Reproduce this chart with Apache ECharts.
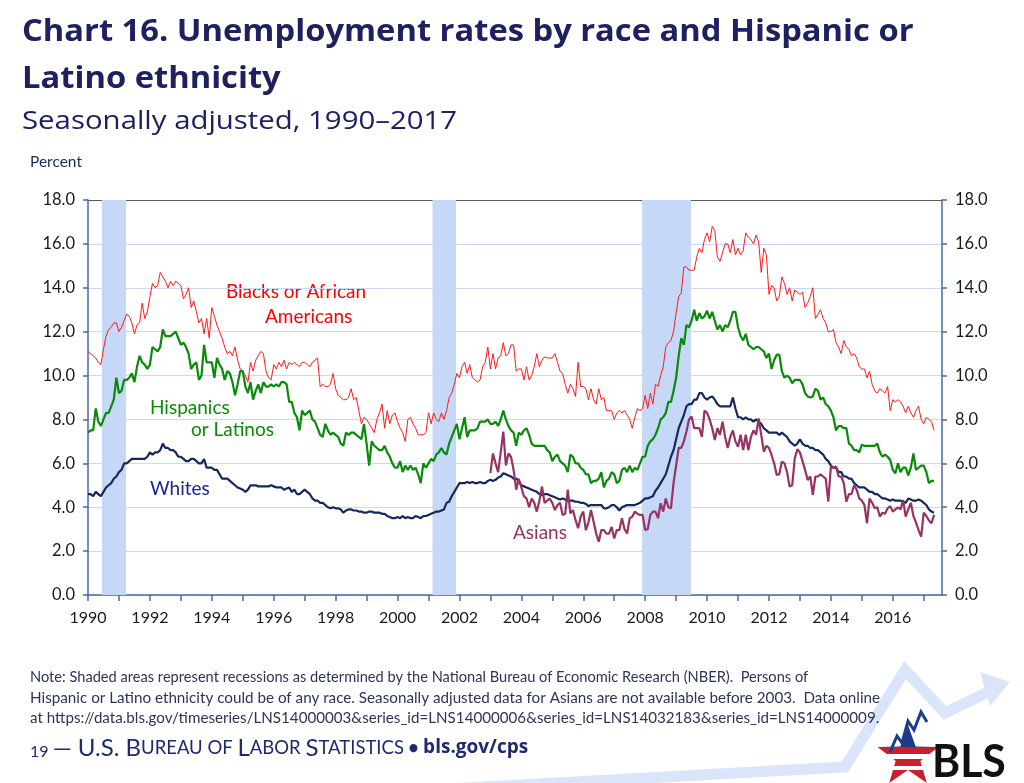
<!DOCTYPE html>
<html><head><meta charset="utf-8">
<script src="https://cdn.jsdelivr.net/npm/echarts@6/dist/echarts.min.js"></script>
<style>html,body{margin:0;padding:0;background:#fff}#c{width:1024px;height:783px}</style>
</head><body><div id="c"></div>
<script>
// ---- DATA (monthly, seasonally adjusted, percent) ----
const startYear = 1990;      // Jan 1990
const asianStartYear = 2003; // Jan 2003
const whites = [
4.6,4.6,4.5,4.7,4.6,4.5,4.7,4.9,5.0,5.1,5.3,5.4,
5.6,5.7,6.0,6.0,6.1,6.2,6.2,6.2,6.2,6.2,6.2,6.3,
6.5,6.4,6.5,6.5,6.6,6.9,6.7,6.7,6.6,6.6,6.5,6.3,
6.3,6.2,6.1,6.1,6.2,6.2,6.1,6.0,6.0,6.2,5.8,5.8,
5.8,5.7,5.7,5.5,5.3,5.3,5.3,5.2,5.1,5.0,4.9,4.85,
4.8,4.7,4.8,5.0,5.0,5.0,4.95,4.95,4.95,4.95,4.95,5.0,
4.95,4.9,4.9,4.9,4.8,4.85,4.9,4.7,4.8,4.6,4.6,4.7,
4.8,4.7,4.6,4.4,4.3,4.3,4.2,4.2,4.1,4.0,3.95,4.0,
3.95,3.95,3.9,3.75,3.85,3.9,3.9,3.85,3.85,3.8,3.8,3.75,
3.75,3.8,3.8,3.75,3.75,3.75,3.7,3.7,3.6,3.55,3.5,3.5,
3.55,3.5,3.6,3.5,3.55,3.5,3.5,3.6,3.55,3.5,3.6,3.6,
3.65,3.7,3.75,3.8,3.8,3.85,3.9,4.2,4.25,4.5,4.7,4.9,
5.1,5.1,5.1,5.15,5.1,5.15,5.1,5.1,5.15,5.1,5.1,5.2,
5.25,5.2,5.25,5.35,5.4,5.55,5.5,5.45,5.4,5.3,5.3,5.2,
5.0,4.95,4.9,4.85,4.8,4.75,4.7,4.6,4.55,4.6,4.6,4.55,
4.5,4.45,4.4,4.35,4.4,4.35,4.3,4.3,4.3,4.25,4.25,4.2,
4.2,4.15,4.05,4.1,4.1,4.1,4.1,4.1,3.95,3.95,4.0,4.1,
4.1,4.0,3.85,4.0,4.05,4.1,4.1,4.1,4.1,4.15,4.2,4.3,
4.4,4.4,4.45,4.5,4.75,4.9,5.1,5.3,5.5,5.9,6.3,6.6,
7.1,7.6,7.9,8.2,8.6,8.7,8.7,8.9,8.9,9.2,9.2,9.0,
8.9,9.0,9.05,8.9,8.7,8.6,8.6,8.6,8.6,8.6,9.0,8.5,
8.1,8.1,8.0,8.1,8.0,8.0,7.9,8.0,7.9,7.8,7.6,7.5,
7.4,7.4,7.4,7.4,7.3,7.4,7.3,7.2,7.0,6.9,6.8,6.9,
7.1,6.9,6.8,6.8,6.7,6.7,6.6,6.6,6.5,6.4,6.2,6.1,
5.9,5.8,5.8,5.6,5.6,5.4,5.4,5.3,5.3,5.1,5.0,4.9,
4.9,4.9,4.8,4.7,4.7,4.6,4.6,4.5,4.4,4.4,4.35,4.3,
4.35,4.3,4.3,4.3,4.25,4.2,4.4,4.35,4.3,4.3,4.35,4.3,
4.2,4.1,3.9,3.8,3.75];
const blacks = [
11.1,11.0,10.9,10.8,10.6,10.5,11.2,11.8,12.1,12.2,12.4,12.4,
12.0,12.2,12.5,12.8,12.7,12.4,11.9,12.3,12.4,13.3,12.6,12.9,
13.6,14.2,14.0,14.1,14.7,14.5,14.3,14.0,14.3,14.1,14.3,14.2,
14.1,13.5,13.7,14.0,13.1,13.4,12.9,12.4,12.6,11.9,12.6,11.7,
13.1,12.7,12.3,12.0,11.7,11.3,11.0,11.1,10.9,11.3,10.7,10.3,
10.2,10.0,9.7,10.6,10.2,10.7,10.9,11.1,11.0,10.2,9.9,9.8,
10.5,10.3,10.6,10.4,10.7,10.3,10.6,10.5,10.6,10.5,10.4,10.6,
10.6,10.5,10.4,10.6,10.7,10.8,9.5,9.6,9.5,9.5,9.6,10.1,
9.4,9.1,9.0,8.9,8.9,9.0,9.4,8.9,9.0,8.4,7.8,8.1,
8.0,7.8,7.6,7.4,8.0,8.3,8.7,7.6,8.4,7.8,8.2,8.3,
7.9,7.6,7.4,7.0,8.0,8.1,7.8,7.6,7.3,7.3,7.3,7.4,
8.3,7.8,8.3,8.0,7.9,8.3,8.0,8.4,9.0,9.2,9.6,10.1,
9.9,10.4,10.6,10.1,10.5,9.9,9.8,9.7,9.8,10.4,10.6,11.3,
10.3,11.0,10.3,10.8,10.9,11.5,10.9,11.0,11.4,11.4,10.2,10.3,
10.3,9.8,10.4,9.8,10.0,10.4,11.0,10.4,10.7,10.85,10.8,10.8,
10.8,11.0,10.6,10.2,10.1,9.6,9.2,9.6,9.4,9.05,10.6,9.5,
9.5,9.4,8.9,9.4,8.9,8.7,9.4,8.9,9.0,8.4,8.4,8.4,
8.0,8.3,8.4,8.3,8.4,8.2,8.0,7.6,8.1,8.5,8.4,8.5,
9.1,8.5,9.2,8.7,9.6,9.5,10.0,10.4,11.3,11.5,11.6,12.0,
12.85,13.6,13.75,14.95,14.95,14.8,14.8,14.8,15.4,15.8,15.6,16.2,
16.5,16.1,16.8,16.6,15.4,15.2,15.6,16.0,16.0,15.6,16.2,15.5,
15.8,15.5,15.7,16.5,16.3,16.2,16.0,16.4,16.1,14.7,15.8,15.5,
13.7,14.1,14.0,13.4,13.6,14.5,14.2,13.7,14.0,13.4,13.9,13.8,
13.7,13.8,13.1,13.3,13.6,14.0,12.6,12.8,13.0,12.6,12.4,12.0,
12.0,12.1,11.5,11.3,11.0,11.6,11.3,11.2,10.9,11.0,10.8,10.4,
10.3,10.3,9.9,10.2,9.6,9.3,9.2,9.4,9.3,9.2,9.5,8.4,
8.9,8.8,8.9,8.8,8.6,8.3,8.6,8.3,8.1,8.4,8.6,8.0,
7.8,8.1,8.0,7.9,7.5];
const hispanics = [
7.4,7.5,7.5,8.5,7.9,7.7,8.0,8.3,8.3,8.6,8.9,9.9,
9.2,9.3,9.8,9.8,9.9,10.1,9.7,10.4,10.9,10.6,10.5,10.3,
10.5,11.3,11.2,11.1,11.3,12.1,11.8,11.8,11.8,11.9,12.0,11.7,
11.4,11.5,11.3,11.0,10.3,10.5,10.6,9.8,10.0,11.4,10.6,10.6,
10.6,9.9,10.8,10.5,10.3,9.8,10.2,10.1,9.7,9.1,9.6,10.2,
10.2,9.5,9.2,9.7,8.9,9.3,9.6,9.2,9.7,9.5,9.5,9.6,
9.5,9.6,9.5,9.7,9.7,9.6,8.8,8.8,8.3,8.1,7.5,8.4,
8.2,8.3,8.4,8.0,7.9,7.6,7.3,7.2,7.8,7.5,7.3,7.4,
7.3,7.2,6.9,6.8,7.4,7.3,7.4,7.4,7.3,7.2,7.1,7.8,
6.9,5.9,7.0,6.8,6.7,6.6,6.6,6.8,6.5,6.3,6.0,5.8,
5.8,6.1,5.6,5.9,5.7,5.9,5.7,5.8,5.5,5.1,6.0,5.8,
6.0,6.2,6.1,6.4,6.5,6.7,6.5,6.4,6.9,7.2,7.5,7.8,
7.1,7.6,8.1,7.2,7.5,7.5,7.5,7.6,7.9,7.9,7.9,8.0,
7.8,7.8,7.9,7.7,8.0,8.4,8.0,7.7,7.5,7.4,6.8,7.4,
7.3,7.5,7.6,7.3,6.9,6.8,6.8,6.8,6.8,6.8,6.6,6.5,
6.1,6.3,6.4,6.1,6.0,5.9,5.6,6.4,6.3,6.0,6.0,5.8,
5.7,5.5,5.5,5.1,5.2,5.2,5.3,5.6,4.9,5.2,5.3,5.6,
5.5,5.1,5.2,5.7,5.8,5.6,5.9,5.6,5.8,5.7,6.0,6.3,
6.3,6.8,7.0,7.1,7.3,7.6,8.0,8.1,8.3,8.8,8.8,9.3,
9.9,10.9,11.7,11.4,12.3,12.2,12.5,13.0,12.5,12.85,12.6,12.7,
12.95,12.6,12.9,12.5,12.1,12.3,12.0,12.3,12.2,12.5,12.9,12.9,
12.2,11.8,11.6,11.9,11.4,11.3,11.2,11.3,11.3,11.2,11.1,10.8,
11.0,10.3,10.7,10.95,10.95,10.2,9.9,10.0,9.9,9.65,9.8,9.8,
9.8,9.6,9.2,9.05,9.0,9.05,9.4,9.3,8.9,9.0,8.7,8.6,
8.4,8.1,7.5,7.7,7.7,7.6,7.6,6.9,6.8,6.6,6.6,6.5,
6.85,6.8,6.8,6.8,6.8,6.8,6.9,6.5,6.3,6.4,6.3,6.15,
5.7,5.55,6.0,5.6,5.8,5.8,5.45,5.8,6.45,5.7,5.8,5.9,
5.9,5.6,5.1,5.2,5.2];
const asians = [
5.55,6.45,6.0,5.6,6.5,7.45,5.9,6.45,6.3,5.7,4.8,5.3,
4.9,4.5,4.4,4.0,4.4,4.2,3.8,4.3,4.95,4.2,4.3,4.4,
4.2,3.87,4.1,4.2,3.65,3.7,4.8,3.72,3.87,3.42,3.04,3.57,
3.8,2.96,3.3,3.87,3.34,2.8,2.43,2.96,2.96,2.8,2.8,3.1,
2.58,2.96,2.96,3.5,3.0,2.8,3.5,3.57,3.8,3.7,3.65,3.65,
2.96,3.0,3.65,3.8,3.8,3.5,4.18,3.8,4.4,4.0,3.95,5.1,
5.9,6.7,6.7,7.0,7.45,8.0,8.13,7.6,7.6,7.6,7.2,8.4,
8.3,8.0,7.6,7.06,7.6,7.3,7.9,7.2,6.7,7.2,7.5,7.0,
6.76,7.3,6.6,7.3,6.6,7.2,7.5,7.3,8.05,7.3,6.53,6.8,
6.7,6.38,6.0,5.47,5.5,6.08,6.0,5.6,4.94,5.0,6.23,6.64,
6.5,6.1,5.7,5.24,5.4,4.56,5.4,5.4,5.5,5.4,5.3,4.25,
5.85,5.8,5.85,5.4,5.4,5.1,4.25,4.6,4.6,5.0,4.8,4.4,
4.3,4.1,3.27,4.4,4.2,3.95,4.0,3.57,3.75,3.7,3.95,4.05,
3.8,3.9,4.0,3.9,4.33,3.57,3.9,4.2,3.6,3.3,2.96,2.66,
3.75,3.6,3.4,3.27,3.65];
// Recessions (NBER), in fractional years
const recessions = [[1990.45, 1991.23], [2001.13, 2001.89], [2007.9, 2009.48]];
const yMin = 0, yMax = 18, yStep = 2;
const xMin = 1990, xMax = 2017.59;

// ---- build ----
const toXY = (arr, y0) => arr.map((v, i) => [y0 + i / 12, v]);
const navy = '#1f2060';
const axisBlue = '#4a68a6';
const gridColors = [];
for (let v = yMin; v <= yMax; v += yStep) gridColors.push(v === yMax ? '#595959' : '#c9d9f3');

const yAxisBase = {
  type: 'value', min: yMin, max: yMax, interval: yStep,
  axisLine: { show: true, lineStyle: { color: axisBlue, width: 1.5 } },
  axisTick: { show: true, length: 5, lineStyle: { color: axisBlue, width: 1.5 } },
  axisLabel: { color: '#1a1a1a', fontSize: 16.5, fontFamily: 'Lato', margin: 13, formatter: v => v.toFixed(1) },
};

function txt(x, y, text, fill, font, sx) {
  return { type: 'text', x: x, y: y, scaleX: sx || 1, silent: true,
    style: { text: text, fill: fill, font: font, verticalAlign: 'middle', align: 'left' } };
}

const chart = echarts.init(document.getElementById('c'), null, { renderer: 'canvas' });
chart.setOption({
  animation: false,
  backgroundColor: '#ffffff',
  grid: { left: 88, right: 82, top: 200, bottom: 188 },
  xAxis: {
    type: 'value', min: xMin, max: xMax, interval: 1,
    axisLine: { show: true, lineStyle: { color: axisBlue, width: 1.5 } },
    axisTick: { show: true, length: 6, lineStyle: { color: axisBlue, width: 1.5 } },
    axisLabel: { color: '#1a1a1a', fontSize: 16, fontFamily: 'Lato', margin: 15, showMaxLabel: false,
      formatter: v => (Math.abs(v - Math.round(v)) < 1e-6 && Math.round(v) % 2 === 0) ? String(Math.round(v)) : '' },
    splitLine: { show: false }
  },
  yAxis: [
    Object.assign({}, yAxisBase, { position: 'left', splitLine: { show: true, lineStyle: { color: gridColors, width: 1.2 } } }),
    Object.assign({}, yAxisBase, { position: 'right', splitLine: { show: false } })
  ],
  series: [
    { type: 'line', name: 'rec', data: [], silent: true, z: 1,
      markArea: { silent: true, itemStyle: { color: '#c6d8f7', opacity: 1 },
        data: recessions.map(r => [{ xAxis: r[0], yAxis: yMax }, { xAxis: r[1], yAxis: yMin }]) } },
    { type: 'line', name: 'Blacks or African Americans', data: toXY(blacks, startYear), showSymbol: false, z: 3,
      lineStyle: { color: '#ff1a1a', width: 1 } },
    { type: 'line', name: 'Hispanics or Latinos', data: toXY(hispanics, startYear), showSymbol: false, z: 3,
      lineStyle: { color: '#0a8a0a', width: 2.2 } },
    { type: 'line', name: 'Whites', data: toXY(whites, startYear), showSymbol: false, z: 4,
      lineStyle: { color: '#17275e', width: 2.2 } },
    { type: 'line', name: 'Asians', data: toXY(asians, asianStartYear), showSymbol: false, z: 4,
      lineStyle: { color: '#963362', width: 2.2 } }
  ],
  graphic: [
    { type: 'polyline', silent: true, z: -1, shape: { points: [[430, 790], [845, 767], [905, 670], [945, 713], [992, 690]] },
      style: { stroke: '#dbe5f9', lineWidth: 11, fill: null, lineJoin: 'miter' } },
    { type: 'polygon', silent: true, z: -1, shape: { points: [[980, 672], [1010, 682], [990, 706]] }, style: { fill: '#dbe5f9' } },
    txt(22, 32, 'Chart 16. Unemployment rates by race and Hispanic or', navy, 'bold 30px "Open Sans"', 1.09),
    txt(22, 79, 'Latino ethnicity', navy, 'bold 30px "Open Sans"', 1.09),
    txt(22, 122, 'Seasonally adjusted, 1990\u20132017', navy, '26px "Open Sans"', 1.13),
    txt(30, 162, 'Percent', '#1f2a5a', '15.5px Lato'),
    txt(226, 292, 'Blacks or African', '#ff0000', '19px Lato'),
    txt(265, 317, 'Americans', '#ff0000', '19px Lato'),
    txt(150, 408, 'Hispanics', '#0a8a0a', '19px Lato'),
    txt(191, 430, 'or Latinos', '#0a8a0a', '19px Lato'),
    txt(150, 489, 'Whites', '#1f2090', '19px Lato'),
    txt(513, 533, 'Asians', '#963362', '19px Lato'),
    txt(30, 677, 'Note: Shaded areas represent recessions as determined by the National Bureau of Economic Research (NBER).  Persons of', '#2d3555', '15px Lato', 0.975),
    txt(30, 698, 'Hispanic or Latino ethnicity could be of any race. Seasonally adjusted data for Asians are not available before 2003.  Data online', '#2d3555', '15px Lato', 1.015),
    txt(30, 718, 'at https://data.bls.gov/timeseries/LNS14000003&series_id=LNS14000006&series_id=LNS14032183&series_id=LNS14000009.', '#2d3555', '15px Lato', 1.01),
    { type: 'text', x: 30, y: 748, silent: true, style: {
        verticalAlign: 'middle',
        text: '{a|19 }{b|\u2014 U.S. B}{c|UREAU OF }{b|L}{c|ABOR }{b|S}{c|TATISTICS}{d| \u2022 }{e|bls.gov/cps}',
        rich: {
          a: { fill: '#1f2a6e', font: '16px Lato', verticalAlign: 'bottom' },
          b: { fill: '#1f2a6e', font: '24px Lato' },
          c: { fill: '#1f2a6e', font: '18.5px Lato' },
          d: { fill: '#1f2a6e', font: 'bold 18px Lato' },
          e: { fill: '#1f2a6e', font: 'bold 19px "Open Sans"' }
        } } },
    { type: 'polygon', silent: true,
      shape: { points: (function () { const p = []; const cx = 908, cy = 757, R = 32, r = 13;
        for (let i = 0; i < 10; i++) { const a = -Math.PI / 2 + i * Math.PI / 5; const rad = i % 2 ? r : R; p.push([cx + rad * Math.cos(a), cy + rad * Math.sin(a)]); } return p; })() },
      style: { fill: new echarts.graphic.LinearGradient(0, 0, 0, 1, [
        { offset: 0, color: '#1f3a8a' }, { offset: 0.38, color: '#1f3a8a' },
        { offset: 0.38, color: '#c8202f' }, { offset: 0.5, color: '#c8202f' },
        { offset: 0.5, color: '#ffffff' }, { offset: 0.58, color: '#ffffff' },
        { offset: 0.58, color: '#c8202f' }, { offset: 0.7, color: '#c8202f' },
        { offset: 0.7, color: '#ffffff' }, { offset: 0.78, color: '#ffffff' },
        { offset: 0.78, color: '#c8202f' }, { offset: 1, color: '#c8202f' }]) } },
    { type: 'polyline', silent: true, shape: { points: [[890, 752], [897, 736], [902, 743], [908, 721], [914, 730], [921, 712], [927, 722]] },
      style: { stroke: '#1f3a8a', lineWidth: 3, fill: null } },
    txt(932, 762, 'BLS', '#111111', 'bold 45px Lato', 0.95)
  ]
});
</script></body></html>
